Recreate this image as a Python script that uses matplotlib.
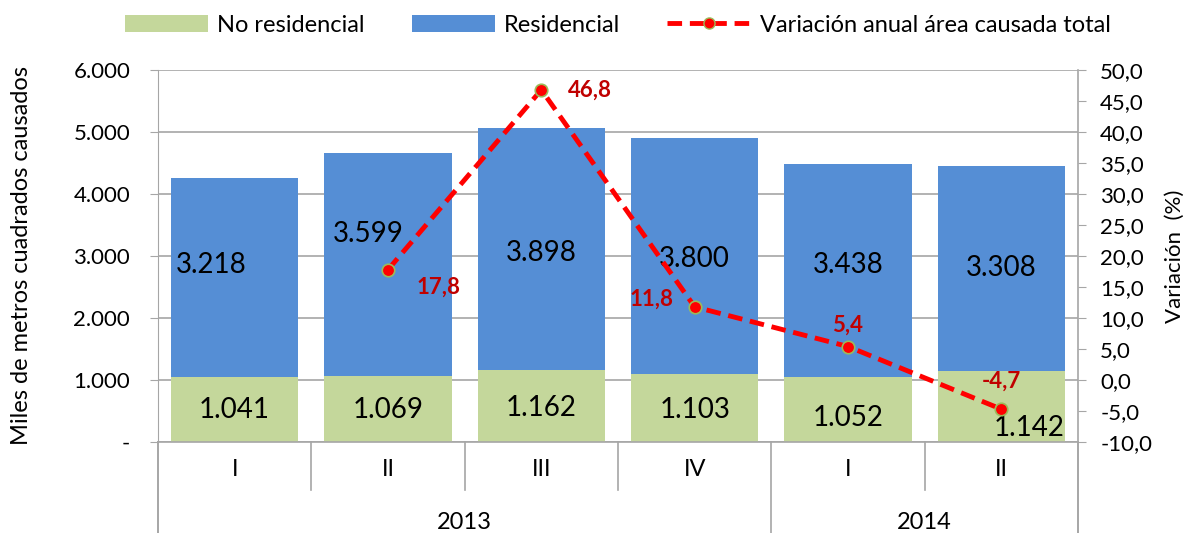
import matplotlib
matplotlib.use("Agg")
import matplotlib.pyplot as plt
import matplotlib.transforms as mtransforms
from matplotlib.lines import Line2D
from matplotlib.patches import Patch
from matplotlib.ticker import FuncFormatter, MultipleLocator
import numpy as np

plt.rcParams["font.family"] = ["Lato", "DejaVu Sans"]

quarters = ["I", "II", "III", "IV", "I", "II"]
years = ["2013", "2014"]
year_span = [4, 2]
no_residencial = [1041, 1069, 1162, 1103, 1052, 1142]
residencial = [3218, 3599, 3898, 3800, 3438, 3308]
variacion = [np.nan, 17.8, 46.8, 11.8, 5.4, -4.7]

# label placement (data units)
res_label_pos = [(-0.15, 2850), (-0.13, 3350), (0.0, 3050), (0.0, 2950), (0.0, 2850), (0.0, 2800)]
nores_label_pos = [(0.0, 520), (0.0, 520), (0.0, 550), (0.0, 520), (0.0, 390), (0.18, 230)]
var_label_off = [None, (0.33, -2.8), (0.32, 0.0), (-0.28, 1.2), (0.0, 3.5), (0.0, 4.5)]

GREEN = "#C4D79B"
BLUE = "#558ED5"
RED = "#FF0000"
DARKRED = "#C00000"
GRID = "#A6A6A6"


def thousands(v, _pos):
    if v == 0:
        return "-"
    return f"{v:,.0f}".replace(",", ".")


fig = plt.figure(figsize=(11.88, 5.33), dpi=100)
ax = fig.add_axes([0.133, 0.1707, 0.7744, 0.698])
x = np.arange(len(quarters))

ax.bar(x, no_residencial, width=0.83, color=GREEN, zorder=2)
ax.bar(x, residencial, width=0.83, bottom=no_residencial, color=BLUE, zorder=2)

for i in x:
    dx, yy = res_label_pos[i]
    ax.text(i + dx, yy, thousands(residencial[i], None), ha="center", va="center",
            fontsize=20, zorder=3)
    dx, yy = nores_label_pos[i]
    ax.text(i + dx, yy, thousands(no_residencial[i], None), ha="center", va="center",
            fontsize=20, zorder=3)

ax.set_xlim(-0.5, len(quarters) - 0.5)
ax.set_ylim(0, 6000)
ax.yaxis.set_major_locator(MultipleLocator(1000))
ax.yaxis.set_major_formatter(FuncFormatter(thousands))
ax.grid(axis="y", color=GRID, linewidth=1.2, zorder=0)
ax.set_axisbelow(True)
ax.tick_params(axis="y", direction="out", length=6, color=GRID, labelsize=16, pad=14)
ax.set_xticks([])
for s in ["top", "right", "bottom"]:
    ax.spines[s].set_visible(False)
ax.spines["left"].set_color(GRID)
ax.spines["left"].set_bounds(0, 6000)
ax.set_ylabel("Miles de metros cuadrados causados", fontsize=17, labelpad=30)

# multi-level category axis
trans = mtransforms.blended_transform_factory(ax.transData, ax.transAxes)
ax.plot([-0.5, len(quarters) - 0.5], [0, 0], transform=trans, color=GRID, lw=1.2, clip_on=False)
for i, q in enumerate(quarters):
    ax.text(i, -0.075, q, transform=trans, ha="center", va="center", fontsize=17)
edges = np.cumsum([0] + year_span) - 0.5
for i in range(len(quarters) + 1):
    xe = i - 0.5
    low = -0.245 if xe in edges else -0.13
    ax.plot([xe, xe], [0, low], transform=trans, color=GRID, lw=1.2, clip_on=False)
for k, yr in enumerate(years):
    mid = (edges[k] + edges[k + 1]) / 2
    ax.text(mid, -0.215, yr, transform=trans, ha="center", va="center", fontsize=17)

ax2 = ax.twinx()
ax2.set_ylim(-10, 50)
ax2.yaxis.set_major_locator(MultipleLocator(5))
ax2.yaxis.set_major_formatter(FuncFormatter(lambda v, p: f"{v:.1f}".replace(".", ",")))
ax2.tick_params(axis="y", direction="out", length=6, color=GRID, labelsize=16, pad=10)
for s in ["top", "left", "bottom"]:
    ax2.spines[s].set_visible(False)
ax2.spines["right"].set_color(GRID)
ax2.spines["right"].set_linewidth(1.2)
ax2.plot(x, variacion, color=RED, lw=3.5, dashes=(3, 1.6), marker="o", markersize=9,
         markerfacecolor=RED, markeredgecolor="#9BBB59", markeredgewidth=1.2, zorder=4)
for i, v in enumerate(variacion):
    if var_label_off[i] is None:
        continue
    dx, dy = var_label_off[i]
    ax2.text(i + dx, v + dy, f"{v:.1f}".replace(".", ","), ha="center", va="center",
             fontsize=16, fontweight="bold", color=DARKRED, zorder=5)
ax2.set_ylabel("Variación  (%)", fontsize=16, labelpad=9)
ax2.plot([1, 1], [0, -0.245], transform=ax2.transAxes, color=GRID, lw=1.2, clip_on=False)
ax.plot([0, 0], [0, -0.245], transform=ax.transAxes, color=GRID, lw=1.2, clip_on=False)

handles = [
    Patch(facecolor=GREEN, label="No residencial"),
    Patch(facecolor=BLUE, label="Residencial"),
    Line2D([0], [0], color=RED, lw=3.5, dashes=(3, 1.6), marker="o", markersize=8,
           markerfacecolor=RED, markeredgecolor="#9BBB59",
           label="Variación anual área causada total"),
]
fig.legend(handles=handles, loc="center", bbox_to_anchor=(0.52, 0.953), ncol=3,
           frameon=False, fontsize=17, handlelength=3.5, handleheight=0.7,
           columnspacing=2.0, handletextpad=0.4)

fig.savefig("out.png", dpi=100)
